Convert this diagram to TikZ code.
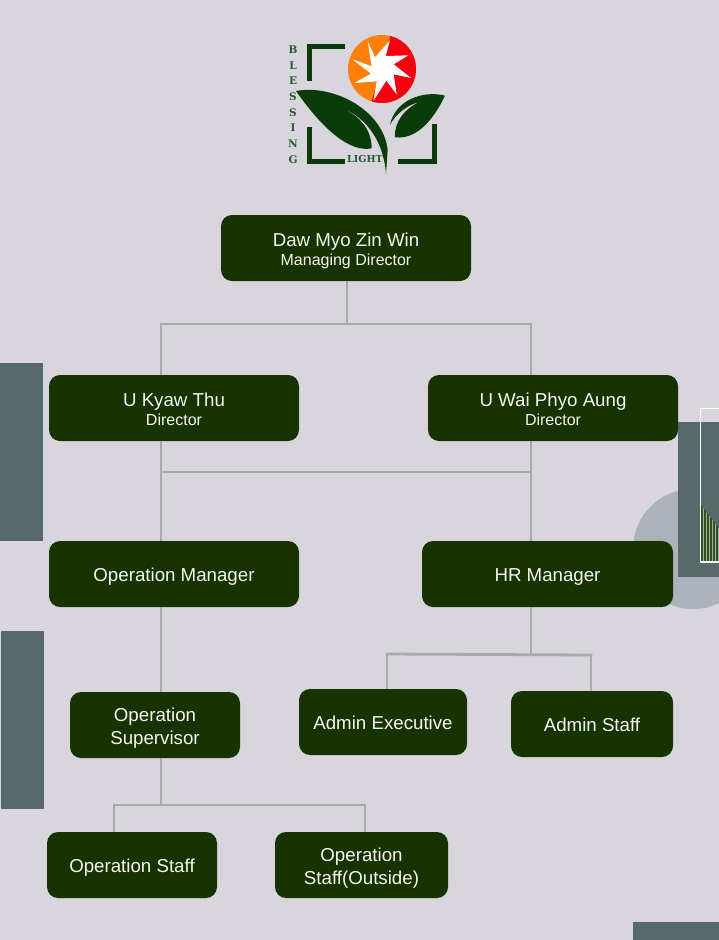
\documentclass[tikz,border=0pt]{standalone}
\usepackage{fontspec}
\setmainfont{Liberation Sans}
\newfontfamily\logofont{DejaVu Serif}
\definecolor{bgc}{HTML}{D8D6DC}
\definecolor{boxc}{HTML}{163300}
\definecolor{linec}{HTML}{A9A9AB}
\definecolor{slate}{HTML}{566A6C}
\definecolor{blob}{HTML}{ABB2BA}
\definecolor{leafc}{HTML}{0B3B0B}
\definecolor{textg}{HTML}{2A5A30}
\definecolor{orangec}{HTML}{FF7F0A}
\definecolor{redc}{HTML}{F5000F}
\definecolor{barc}{HTML}{2F5220}
\definecolor{barl}{HTML}{A4B09A}
\tikzset{
  x=1pt,y=-1pt,
  orgbox/.style={fill=boxc,rounded corners=11pt,inner sep=0pt},
  orgtext/.style={text=white!96!black,align=center,inner sep=0pt,yshift=-3pt,font=\fontsize{18.7}{23}\selectfont},
  conn/.style={draw=linec,line width=2.8pt},
  sunzoom/.style={shift={(345,32)},x=0.3333pt,y=-0.3333pt},
  leafzoom/.style={shift={(290,80)},x=0.3333pt,y=-0.3333pt},
  bracket/.style={draw=leafc,line width=5pt,line join=miter},
}
\newcommand{\orgnode}[6]{\node[orgbox,minimum width=#4,minimum height=#5] (#1) at (#2,#3) {}; \node[orgtext] (#1t) at (#1.center) {#6\vphantom{g}};}
\newcommand{\subline}[1]{\\[-3.5pt]{\fontsize{16}{20}\selectfont #1}}
\begin{document}
\begin{tikzpicture}
\useasboundingbox (0,0) rectangle (719,940);
\fill[bgc] (0,0) rectangle (719,940);
% background decoration
\fill[slate] (0,363) rectangle (43,541);
\fill[slate] (1,631) rectangle (44,809);
\fill[slate] (633,922) rectangle (719,940);
\fill[blob] (693,549) circle (60);
\fill[slate] (678,422) rectangle (719,577);
\begin{scope}
\clip (701,505) -- (719,528) -- (719,562) -- (701,562) -- cycle;
\fill[barc] (701,500) rectangle (719,562);
\foreach \x in {703,706,...,719}{\fill[barl] (\x,500) rectangle (\x+1,562);}
\end{scope}
\draw[white,line width=1.5pt] (719.5,408.5) -- (700.5,408.5) -- (700.5,562) -- (719.5,562);
% logo
\begin{scope}[sunzoom]
\path[clip] (111,111) circle (102);
\fill[orangec] (0,0) rectangle (225,225);
\fill[redc] (140,0) -- (225,0) -- (225,225) -- (75,225) -- cycle;
\fill[white] (68,28) -- (90,76) -- (135,25) -- (122,72) -- (190,70) -- (146,97) -- (198,138) -- (146,127) -- (155,187) -- (124,146) -- (85,207) -- (95,148) -- (28,153) -- (78,125) -- (22,82) -- (80,103) -- cycle;
\end{scope}
\draw[bracket] (309.5,81) -- (309.5,46.5) -- (345,46.5);
\draw[bracket] (309.5,127) -- (309.5,161.5) -- (345,161.5);
\draw[bracket] (398,161.5) -- (434.5,161.5) -- (434.5,124);
\begin{scope}[leafzoom]
\fill[leafc] (18,33) .. controls (130,12) and (280,90) .. (293,210) -- (288,282)
  .. controls (284,215) and (250,110) .. (135,77)
  .. controls (205,100) and (245,145) .. (245,205)
  .. controls (180,218) and (100,150) .. (18,33) -- cycle;
\fill[leafc] (465,47) .. controls (400,30) and (315,60) .. (300,135)
  .. controls (315,105) and (350,75) .. (390,65)
  .. controls (345,85) and (312,125) .. (315,172)
  .. controls (385,180) and (435,110) .. (465,47) -- cycle;
\end{scope}
\node[inner sep=0pt,align=center,text=textg,font=\logofont\bfseries\fontsize{10.5}{15.7}\selectfont] (blessing) at (293,104.5) {B\\L\\E\\S\\S\\I\\N\\G};
\node[inner sep=0pt,text=textg,font=\logofont\bfseries\fontsize{9.6}{10}\selectfont] (light) at (365,159.5) {LIGHT};
% boxes
\orgnode{md}{346}{248}{250}{66}{Daw Myo Zin Win\subline{Managing Director}}
\orgnode{uk}{174}{408}{250}{66}{U Kyaw Thu\subline{Director\vphantom{g}}}
\orgnode{uw}{553}{408}{250}{66}{U Wai Phyo Aung\subline{Director\vphantom{g}}}
\orgnode{om}{174}{574}{250}{66}{Operation Manager}
\orgnode{hr}{547.5}{574}{251}{66}{HR Manager}
\orgnode{os}{155}{725}{170}{66}{Operation\\Supervisor}
\orgnode{ae}{383}{722}{168}{66}{Admin Executive}
\orgnode{as}{592}{724}{162}{66}{Admin Staff}
\orgnode{st}{132}{865}{170}{66}{Operation Staff}
\orgnode{so}{361.5}{865}{173}{66}{Operation\\Staff(Outside)}
% connectors
\coordinate (j1) at (347,324);
\coordinate (j1l) at (161,324);
\coordinate (j1r) at (531,324);
\coordinate (j2l) at (161,472);
\coordinate (j2r) at (531,472);
\coordinate (j3) at (531,655);
\coordinate (j3l) at (387,654);
\coordinate (j3r) at (591,655);
\coordinate (j4) at (161,805);
\coordinate (j4l) at (114,805);
\coordinate (j4r) at (365,805);
\draw[conn] (md.south -| j1) -- (j1);
\draw[conn,line cap=rect] (j1l) -- (j1r);
\draw[conn] (j1l) -- (uk.north -| j1l);
\draw[conn] (j1r) -- (uw.north -| j1r);
\draw[conn] (uk.south -| j2l) -- (om.north -| j2l);
\draw[conn] (uw.south -| j2r) -- (hr.north -| j2r);
\draw[conn] (j2l) -- (j2r);
\draw[conn] (hr.south -| j3) -- (j3);
\draw[conn,line cap=rect] (j3l) -- (j3r);
\draw[conn] (j3l) -- (ae.north -| j3l);
\draw[conn] (j3r) -- (as.north -| j3r);
\draw[conn] (om.south -| j2l) -- (os.north -| j2l);
\draw[conn] (os.south -| j4) -- (j4);
\draw[conn,line cap=rect] (j4l) -- (j4r);
\draw[conn] (j4l) -- (st.north -| j4l);
\draw[conn] (j4r) -- (so.north -| j4r);
\end{tikzpicture}
\end{document}
